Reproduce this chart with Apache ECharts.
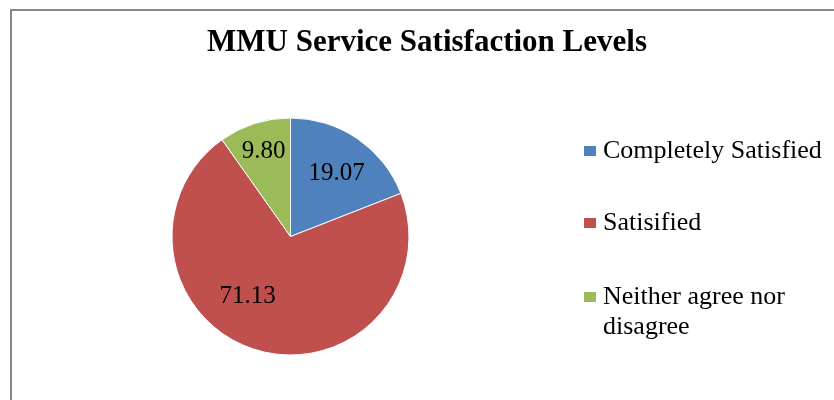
<!DOCTYPE html>
<html style="height: 100%">

<head>
    <meta charset="utf-8">
</head>

<body style="height: 100%;width: 100%;margin: 0;">
    <div id="container" style="width: 834px;height: 400px;"></div>
    <script type="text/javascript" src="https://cdn.jsdelivr.net/npm/echarts@6/dist/echarts.min.js"></script>
    <script type="text/javascript">
        var categories = ['Completely Satisfied', 'Satisified', 'Neither agree nor disagree'];
        var values = [19.07, 71.13, 9.80];
        var colors = ['#4F81BD', '#C0504D', '#9BBB59'];
        // nudge labels to where the original sits them
        var labelShift = [[11, -12], [-25, 0], [-8, -26]];

        var dom = document.getElementById("container");
        var myChart = echarts.init(dom);
        var serif = '"Liberation Serif", "Times New Roman", serif';

        var pieData = categories.map(function (name, i) {
            return { name: name, value: values[i], itemStyle: { color: colors[i] } };
        });

        var option = {
            backgroundColor: '#ffffff',
            animation: false,
            title: {
                text: 'MMU Service Satisfaction Levels',
                left: 427,
                top: 28,
                textAlign: 'center',
                padding: 0,
                textStyle: {
                    fontFamily: serif,
                    fontSize: 31,
                    fontWeight: 'bold',
                    color: '#000',
                    lineHeight: 30
                }
            },
            graphic: [{
                type: 'rect',
                z: -1,
                shape: { x: 11, y: 10, width: 840, height: 400 },
                style: { fill: 'none', stroke: '#878787', lineWidth: 2 }
            }],
            legend: [{
                orient: 'vertical',
                left: 582,
                top: 136,
                padding: 0,
                itemWidth: 14,
                itemHeight: 12,
                itemGap: 42,
                icon: 'rect',
                selectedMode: false,
                data: categories.slice(0, 2),
                textStyle: {
                    fontFamily: serif,
                    fontSize: 26,
                    color: '#000',
                    lineHeight: 30,
                    padding: [0, 0, 0, 1]
                }
            }, {
                orient: 'vertical',
                left: 582,
                top: 252,
                padding: 0,
                itemWidth: 14,
                itemHeight: 12,
                icon: 'rect',
                selectedMode: false,
                data: categories.slice(2),
                // empty first line keeps the icon level with the first text line
                formatter: function (name) {
                    return '\nNeither agree nor\ndisagree';
                },
                textStyle: {
                    fontFamily: serif,
                    fontSize: 26,
                    color: '#000',
                    lineHeight: 30,
                    padding: [0, 0, 0, 1]
                }
            }],
            series: [{
                type: 'pie',
                center: [290.5, 236.5],
                radius: 118.5,
                startAngle: 90,
                clockwise: true,
                data: pieData,
                itemStyle: { borderColor: '#ffffff', borderWidth: 1 },
                label: {
                    show: true,
                    position: 'inside',
                    formatter: function (p) { return p.value.toFixed(2); },
                    fontFamily: serif,
                    fontSize: 25,
                    color: '#000'
                },
                labelLine: { show: false },
                labelLayout: function (params) {
                    var s = labelShift[params.dataIndex];
                    return { dx: s[0], dy: s[1] };
                },
                emphasis: { disabled: true }
            }]
        };

        myChart.setOption(option);
    </script>
</body>

</html>
